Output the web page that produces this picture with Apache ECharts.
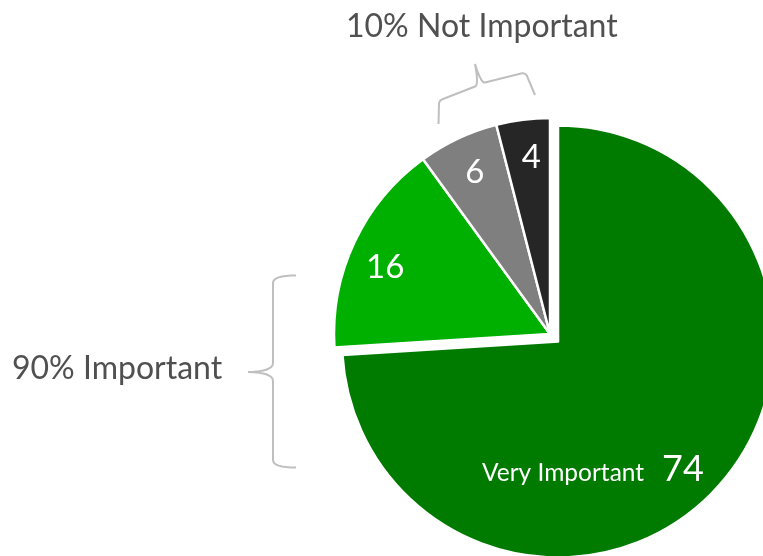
<!DOCTYPE html>
<html>
<head>
<meta charset="utf-8">
<script src="https://cdn.jsdelivr.net/npm/echarts@6/dist/echarts.min.js"></script>
<style>
html,body{margin:0;padding:0;background:#fff;}
#c{width:763px;height:556px;}
</style>
</head>
<body>
<div id="c"></div>
<script>
// Data
const categories = ['Very Important', 'Important', 'Not Very Important', 'Not Important at All'];
const values = [74, 16, 6, 4];
const groupLabels = ['90% Important', '10% Not Important'];

const palette = ['#007B00', '#00B000', '#7F7F7F', '#262626'];

const chart = echarts.init(document.getElementById('c'), null, {renderer: 'canvas'});

const FONT = 'Lato';

const pieData = categories.map((n, i) => ({
  name: n,
  value: values[i],
  selected: i === 0,
  itemStyle: {color: palette[i]},
  label: {show: i === 0}
}));
const labelData = categories.map((n, i) => ({name: n, value: values[i], label: {show: i !== 0}}));

// brace drawing helper: list of commands [['M',x,y],['L',x,y],['Q',cx,cy,x,y]]
function sampleBrace(cmds) {
  const pts = [];
  let cur = null;
  cmds.forEach(c => {
    if (c[0] === 'M' || c[0] === 'L') {
      cur = [c[1], c[2]];
      pts.push(cur);
    } else if (c[0] === 'Q') {
      const p0 = cur;
      for (let k = 1; k <= 8; k++) {
        const t = k / 8, u = 1 - t;
        pts.push([u * u * p0[0] + 2 * u * t * c[1] + t * t * c[3],
                  u * u * p0[1] + 2 * u * t * c[2] + t * t * c[4]]);
      }
      cur = [c[3], c[4]];
    }
  });
  return pts;
}

const leftBrace = sampleBrace([
  ['M', 296, 275.5], ['Q', 273, 275.5, 273, 283], ['L', 273, 363],
  ['Q', 273, 371.5, 248, 372], ['Q', 273, 372.5, 273, 381], ['L', 273, 460],
  ['Q', 273, 467.5, 296, 467.5]
]);
const topBrace = sampleBrace([
  ['M', 438.5, 124], ['L', 439, 104], ['Q', 439, 100.5, 443, 99], ['L', 475, 86.5],
  ['Q', 479, 85, 475, 64], ['Q', 481, 83.5, 485, 82.5], ['L', 521, 73.5],
  ['Q', 525, 72.5, 527, 76], ['L', 535, 95]
]);

chart.setOption({
  animation: false,
  series: [
    {
      type: 'pie',
      center: [550, 334],
      radius: 216,
      startAngle: 90,
      clockwise: true,
      selectedMode: 'single',
      selectedOffset: 11,
      silent: true,
      labelLine: {show: false},
      itemStyle: {borderColor: '#ffffff', borderWidth: 2.5},
      label: {
        position: 'inside',
        color: '#ffffff',
        formatter: function (p) {
          return '{a|' + p.name + '}{b|' + p.value + '}';
        },
        rich: {
          a: {fontFamily: FONT, fontSize: 24.5, color: '#ffffff', padding: [8, 0, 0, 0]},
          b: {fontFamily: FONT, fontSize: 36, color: '#ffffff', padding: [0, 0, 0, 18]}
        }
      },
      labelLayout: function (p) {
        if (p.dataIndex === 0) return {dx: -46, dy: 52};
        return {};
      },
      data: pieData
    },
    {
      type: 'pie',
      center: [550, 334],
      radius: [0, 356],
      startAngle: 90,
      clockwise: true,
      silent: true,
      itemStyle: {color: 'rgba(0,0,0,0)'},
      labelLine: {show: false},
      label: {
        position: 'inside',
        color: '#ffffff',
        fontFamily: FONT,
        fontSize: 33,
        formatter: '{c}'
      },
      labelLayout: function (p) {
        if (p.dataIndex === 1) return {dx: -1, dy: 10};
        if (p.dataIndex === 2) return {dx: 2, dy: 2};
        if (p.dataIndex === 3) return {dx: 4, dy: 3};
        return {};
      },
      data: labelData
    }
  ],
  graphic: [
    {
      type: 'polyline',
      silent: true,
      shape: {points: leftBrace},
      style: {fill: null, stroke: '#BFBFBF', lineWidth: 2}
    },
    {
      type: 'polyline',
      silent: true,
      shape: {points: topBrace},
      style: {fill: null, stroke: '#BFBFBF', lineWidth: 2}
    },
    {
      type: 'text',
      silent: true,
      left: 12, top: 353,
      style: {text: groupLabels[0], font: '32px Lato', fill: '#505050'}
    },
    {
      type: 'text',
      silent: true,
      left: 346, top: 11,
      style: {text: groupLabels[1], font: '32px Lato', fill: '#505050'}
    }
  ]
});
</script>
</body>
</html>
